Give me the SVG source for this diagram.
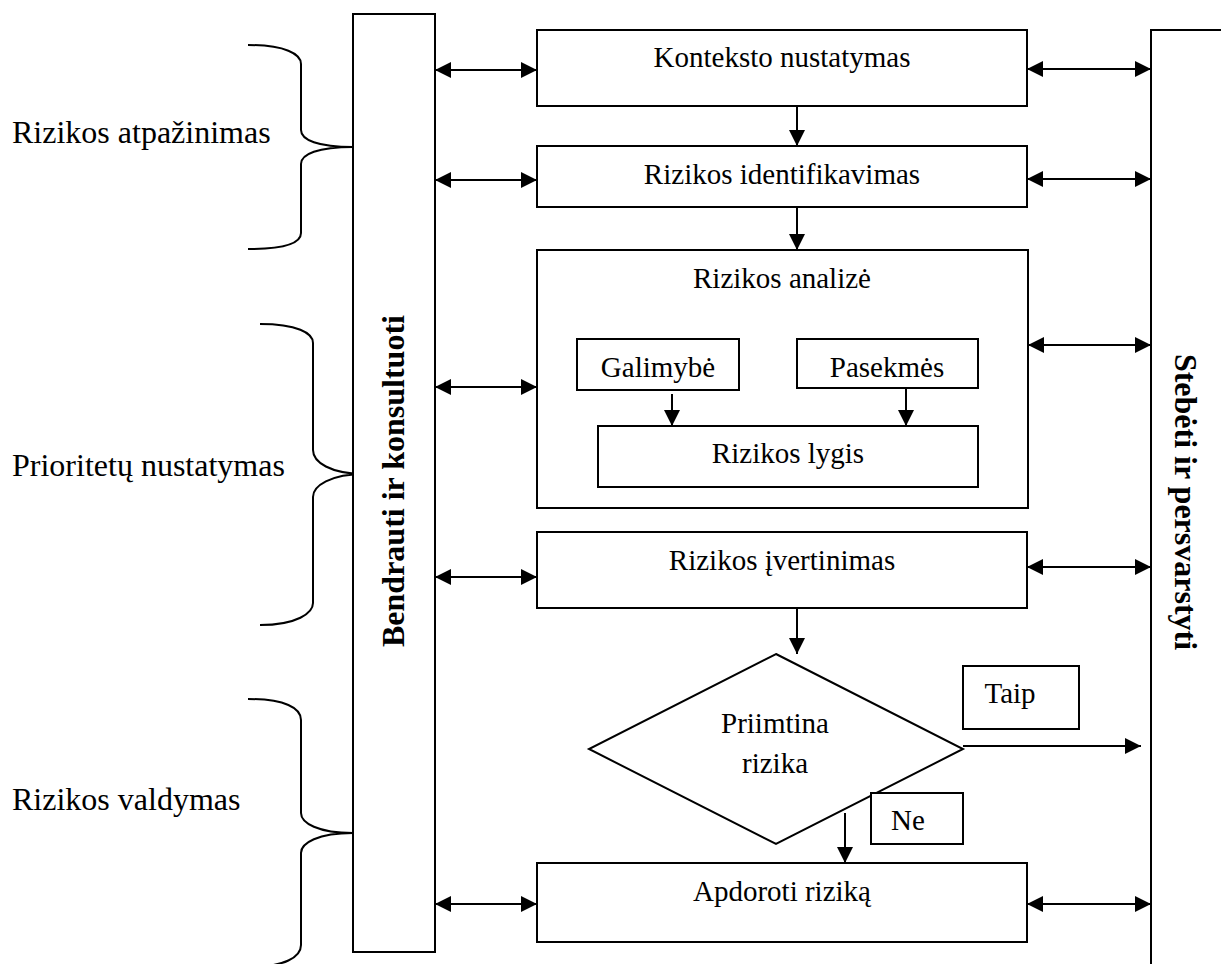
<svg xmlns="http://www.w3.org/2000/svg" width="1221" height="964" viewBox="0 0 1221 964">
<style>
.box{fill:#fff;stroke:#000;stroke-width:2}
.t{font-family:"Liberation Serif","Times New Roman",serif;font-size:29px;fill:#000;text-anchor:middle}
.lbl{font-family:"Liberation Serif","Times New Roman",serif;font-size:32px;fill:#000}
.vb{font-family:"Liberation Serif","Times New Roman",serif;font-size:32px;font-weight:bold;fill:#000;text-anchor:middle}
.c{fill:none;stroke:#000;stroke-width:2}
.br{fill:none;stroke:#000;stroke-width:2}
</style>
<defs>
<marker id="ah" markerUnits="userSpaceOnUse" markerWidth="16" markerHeight="16" viewBox="0 0 15 15" refX="15" refY="7.5" orient="auto-start-reverse">
<path d="M0,0 L15,7.5 L0,15 z" fill="#000"/>
</marker>
</defs>
<rect width="1221" height="964" fill="#fff"/>

<g id="braces">
<path class="br" d="M248,45 C285,45 301,54 301,64 L301,130 C301,140 318,147 353,147 C318,147 301,154 301,164 L301,233 C301,243 285,249 248,249"/>
<path class="br" d="M260,324 C297,324 313,333 313,343 L313,450 C313,462 330,474 365,474 C330,474 313,486 313,497 L313,603 C313,613 297,625 260,625"/>
<path class="br" d="M248,699 C285,699 301,708 301,720 L301,813 C301,823 318,833 353,833 C318,833 301,843 301,853 L301,945 C301,957 285,967 248,967"/>
</g>
<g id="labels">
<text class="lbl" x="12" y="143">Rizikos atpažinimas</text>
<text class="lbl" x="12" y="476">Prioritetų nustatymas</text>
<text class="lbl" x="12" y="810">Rizikos valdymas</text>
</g>

<g id="bar-left">
<rect class="box" x="353" y="14" width="82" height="938"/>
<text class="vb" transform="translate(404,481) rotate(-90)">Bendrauti ir konsultuoti</text>
</g>
<g id="bar-right">
<rect class="box" x="1151" y="30" width="100" height="1000"/>
<text class="vb" transform="translate(1175,502) rotate(90)">Stebėti ir persvarstyti</text>
</g>

<g id="konteksto">
<rect class="box" x="537" y="30" width="490" height="76"/>
<text class="t" x="782" y="67">Konteksto nustatymas</text>
</g>
<g id="identifikavimas">
<rect class="box" x="537" y="146" width="490" height="61"/>
<text class="t" x="782" y="184">Rizikos identifikavimas</text>
</g>
<g id="analize">
<rect class="box" x="537" y="250" width="491" height="258"/>
<text class="t" x="782" y="288">Rizikos analizė</text>
</g>
<g id="galimybe">
<rect class="box" x="577" y="339" width="162" height="51"/>
<text class="t" x="658" y="377">Galimybė</text>
</g>
<g id="pasekmes">
<rect class="box" x="797" y="339" width="181" height="49"/>
<text class="t" x="887" y="377">Pasekmės</text>
</g>
<g id="lygis">
<rect class="box" x="598" y="426" width="380" height="61"/>
<text class="t" x="788" y="463">Rizikos lygis</text>
</g>
<g id="ivertinimas">
<rect class="box" x="537" y="532" width="490" height="76"/>
<text class="t" x="782" y="570">Rizikos įvertinimas</text>
</g>
<g id="priimtina">
<polygon class="box" points="776,654 963,749 776,844 589,749"/>
<text class="t" x="775" y="733">Priimtina</text>
<text class="t" x="775" y="773">rizika</text>
</g>
<g id="taip">
<rect class="box" x="963" y="666" width="116" height="63"/>
<text class="t" x="1010" y="703">Taip</text>
</g>
<g id="ne">
<rect class="box" x="871" y="793" width="92" height="51"/>
<text class="t" x="908" y="830">Ne</text>
</g>
<g id="apdoroti">
<rect class="box" x="537" y="863" width="490" height="79"/>
<text class="t" x="782" y="901">Apdoroti riziką</text>
</g>

<g id="connectors">
<line class="c" x1="435" y1="70" x2="537" y2="70" marker-start="url(#ah)" marker-end="url(#ah)"/>
<line class="c" x1="435" y1="180" x2="537" y2="180" marker-start="url(#ah)" marker-end="url(#ah)"/>
<line class="c" x1="435" y1="387" x2="537" y2="387" marker-start="url(#ah)" marker-end="url(#ah)"/>
<line class="c" x1="435" y1="577" x2="537" y2="577" marker-start="url(#ah)" marker-end="url(#ah)"/>
<line class="c" x1="435" y1="904" x2="537" y2="904" marker-start="url(#ah)" marker-end="url(#ah)"/>
<line class="c" x1="1027" y1="69" x2="1151" y2="69" marker-start="url(#ah)" marker-end="url(#ah)"/>
<line class="c" x1="1027" y1="179" x2="1151" y2="179" marker-start="url(#ah)" marker-end="url(#ah)"/>
<line class="c" x1="1028" y1="345" x2="1151" y2="345" marker-start="url(#ah)" marker-end="url(#ah)"/>
<line class="c" x1="1027" y1="567" x2="1151" y2="567" marker-start="url(#ah)" marker-end="url(#ah)"/>
<line class="c" x1="1027" y1="904" x2="1151" y2="904" marker-start="url(#ah)" marker-end="url(#ah)"/>
<line class="c" x1="797" y1="106" x2="797" y2="146" marker-end="url(#ah)"/>
<line class="c" x1="797" y1="207" x2="797" y2="250" marker-end="url(#ah)"/>
<line class="c" x1="672" y1="394" x2="672" y2="426" marker-end="url(#ah)"/>
<line class="c" x1="906" y1="388" x2="906" y2="426" marker-end="url(#ah)"/>
<line class="c" x1="797" y1="608" x2="797" y2="654" marker-end="url(#ah)"/>
<line class="c" x1="963" y1="746" x2="1141" y2="746" marker-end="url(#ah)"/>
<line class="c" x1="845" y1="813" x2="845" y2="863" marker-end="url(#ah)"/>
</g>
</svg>
